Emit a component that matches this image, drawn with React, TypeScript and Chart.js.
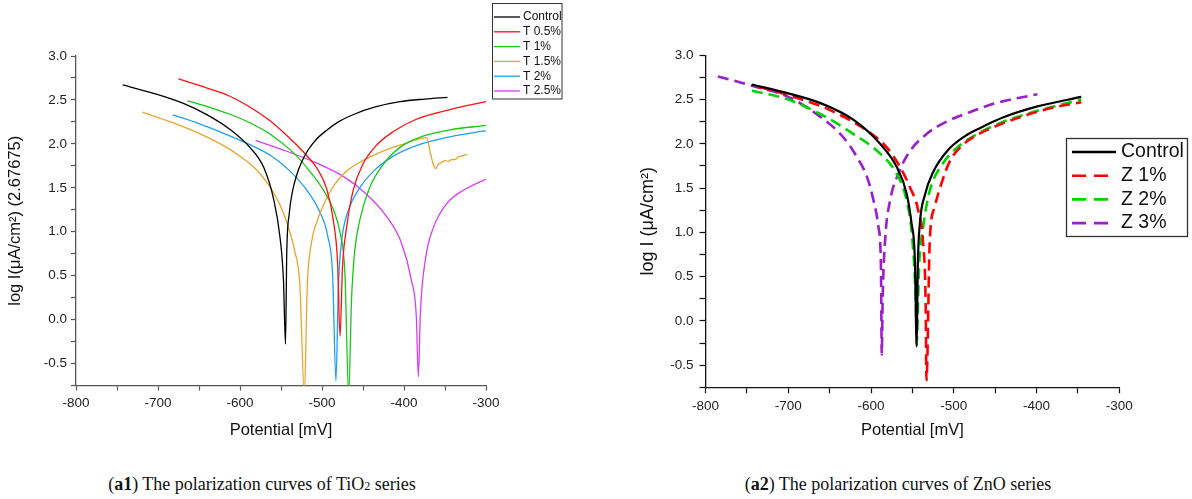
import { useEffect, useRef } from 'react';
import { Chart, registerables } from 'chart.js';

Chart.register(...registerables);

// ---------- (a1) TiO2 series ----------
const tControlE = [-743, -700, -669, -640, -613, -588, -571, -559, -551, -547, -544.5, -543, -540, -536, -531, -525, -517, -507, -495, -480, -460, -435, -405, -375, -347];
const tControlI = [2.67, 2.56, 2.46, 2.33, 2.17, 1.96, 1.73, 1.37, 0.92, 0.45, -0.28, 0.75, 1.2, 1.46, 1.64, 1.79, 1.93, 2.05, 2.15, 2.25, 2.34, 2.42, 2.48, 2.51, 2.53];

const t05E = [-675, -640, -613, -588, -563, -539, -519, -506, -494, -486, -481, -478, -475, -470, -462, -450, -433, -413, -385, -344, -300];
const t05I = [2.74, 2.635, 2.545, 2.42, 2.26, 2.06, 1.87, 1.72, 1.48, 1.12, 0.65, -0.19, 0.6, 1.05, 1.47, 1.77, 1.99, 2.14, 2.28, 2.39, 2.48];

const t1E = [-664, -640, -613, -588, -563, -535, -515, -498, -486, -478, -472, -467.5, -464, -460, -454, -442, -425, -405, -376, -344, -300];
const t1I = [2.49, 2.425, 2.34, 2.24, 2.11, 1.9, 1.69, 1.47, 1.25, 0.99, 0.52, -0.85, 0.23, 0.79, 1.13, 1.5, 1.77, 1.96, 2.09, 2.16, 2.21];

const t15E = [-719, -683, -650, -620, -600, -585, -572, -560, -550, -541, -533, -527, -521.5, -518, -513, -506, -497, -486, -470, -450, -425, -400, -372, -368, -364, -361.5, -358, -354, -350, -346, -342, -338, -334, -330, -327, -323];
const t15I = [2.36, 2.245, 2.12, 1.98, 1.86, 1.75, 1.62, 1.46, 1.28, 1.05, 0.77, 0.4, -0.85, 0.38, 0.87, 1.12, 1.33, 1.52, 1.69, 1.81, 1.92, 2.0, 2.07, 1.9, 1.76, 1.72, 1.77, 1.79, 1.81, 1.8, 1.82, 1.82, 1.85, 1.86, 1.87, 1.88];

const t2E = [-682, -650, -620, -590, -563, -539, -519, -503, -493, -487, -483, -480, -476, -468, -454, -437, -413, -385, -344, -300];
const t2I = [2.33, 2.23, 2.12, 2.0, 1.87, 1.69, 1.48, 1.23, 0.95, 0.5, -0.7, 0.38, 0.9, 1.24, 1.5, 1.69, 1.86, 1.98, 2.08, 2.15];

const t25E = [-581, -547, -506, -474, -446, -421, -403, -391, -385, -382.5, -380, -374, -364, -348, -328, -300];
const t25I = [2.04, 1.93, 1.78, 1.63, 1.43, 1.17, 0.87, 0.45, 0.04, -0.65, 0.08, 0.68, 1.05, 1.32, 1.47, 1.6];

// ---------- (a2) ZnO series ----------
const zControlE = [-744, -700, -661, -621, -589, -569, -557, -551, -547, -544.8, -543.5, -541, -535, -525, -508, -486, -468, -440, -400, -346];
const zControlI = [2.67, 2.57, 2.46, 2.27, 2.0, 1.74, 1.44, 1.1, 0.69, -0.29, 0.61, 1.1, 1.42, 1.68, 1.92, 2.09, 2.18, 2.3, 2.42, 2.53];

const z1E = [-734, -700, -677, -654, -605, -581, -565, -553, -543, -537, -534, -533, -529, -523, -515, -505, -489, -472, -449, -417, -380, -346];
const z1I = [2.64, 2.55, 2.48, 2.4, 2.15, 1.96, 1.74, 1.51, 1.25, 0.87, 0.2, -0.67, 0.91, 1.29, 1.55, 1.8, 1.99, 2.1, 2.2, 2.31, 2.41, 2.47];

const z2E = [-744, -700, -662, -621, -589, -569, -557, -550, -546, -544.8, -542, -537, -529, -513, -493, -472, -440, -400, -346];
const z2I = [2.6, 2.5, 2.34, 2.11, 1.89, 1.66, 1.36, 0.91, 0.23, -0.26, 0.61, 1.06, 1.47, 1.78, 1.98, 2.11, 2.25, 2.37, 2.5];

const z3E = [-785, -745, -700, -662, -634, -617, -605, -597, -591, -588, -587, -586, -583, -577, -567, -555, -533, -509, -480, -449, -399];
const z3I = [2.76, 2.66, 2.53, 2.31, 2.08, 1.85, 1.63, 1.36, 1.06, 0.61, -0.38, 0.23, 0.91, 1.36, 1.66, 1.89, 2.11, 2.25, 2.36, 2.46, 2.56];

const xTickLabels = [-800, -700, -600, -500, -400, -300];
const yTickLabels = [-0.5, 0.0, 0.5, 1.0, 1.5, 2.0, 2.5, 3.0];

const FONT = '"Liberation Sans", Arial, Helvetica, sans-serif';

const pts = (e: number[], v: number[]) => e.map((x, i) => ({ x, y: v[i] }));

const boxLegend = {
  id: 'boxLegend',
  afterDraw(chart: any, _a: any, o: any) {
    if (!o || !o.show) return;
    const ctx = chart.ctx as CanvasRenderingContext2D;
    ctx.save();
    ctx.fillStyle = '#ffffff';
    ctx.fillRect(o.x, o.y, o.w, o.h);
    ctx.strokeStyle = o.border;
    ctx.lineWidth = o.borderWidth;
    ctx.strokeRect(o.x, o.y, o.w, o.h);
    chart.data.datasets.forEach((ds: any, i: number) => {
      const cy = o.firstRow + i * o.rowH;
      ctx.beginPath();
      ctx.setLineDash(ds.borderDash && ds.borderDash.length ? o.dash : []);
      ctx.strokeStyle = ds.borderColor;
      ctx.lineWidth = o.lineW;
      ctx.moveTo(o.lineX0, cy);
      ctx.lineTo(o.lineX1, cy);
      ctx.stroke();
      ctx.setLineDash([]);
      ctx.fillStyle = '#111';
      ctx.font = `${o.fontSize}px ${FONT}`;
      ctx.textBaseline = 'middle';
      ctx.textAlign = 'left';
      ctx.fillText(ds.label, o.textX, cy);
    });
    ctx.restore();
  },
};

type Cfg = {
  width: number;
  height: number;
  datasets: any[];
  yWidth: number;
  xHeight: number;
  padTop: number;
  padRight: number;
  axisColor: string;
  axisWidth: number;
  yTitle: string;
  yTitleSize: number;
  yTitlePad: number;
  tickLen: number;
  tickPadY: number;
  tickSize: number;
  legend: any;
};

function PolChart({ cfg }: { cfg: Cfg }) {
  const ref = useRef<HTMLCanvasElement | null>(null);
  useEffect(() => {
    if (!ref.current) return;
    const chart = new Chart(ref.current, {
      type: 'line',
      data: { datasets: cfg.datasets },
      plugins: [boxLegend],
      options: {
        responsive: false,
        animation: false,
        layout: { padding: { top: cfg.padTop, right: cfg.padRight, left: 0, bottom: 0 } },
        elements: { point: { radius: 0 } },
        plugins: {
          legend: { display: false },
          tooltip: { enabled: false },
          boxLegend: cfg.legend,
        } as any,
        scales: {
          x: {
            type: 'linear',
            min: -800,
            max: -300,
            afterFit: (s: any) => { s.height = cfg.xHeight; },
            ticks: {
              stepSize: 50,
              autoSkip: false,
              maxRotation: 0,
              padding: 5,
              color: '#222',
              font: { size: cfg.tickSize, family: FONT },
              callback: (v: any) => (xTickLabels.includes(Number(v)) ? String(v) : ''),
            },
            grid: { drawOnChartArea: false, tickLength: cfg.tickLen, tickColor: cfg.axisColor, tickWidth: 1.2 },
            border: { color: cfg.axisColor, width: cfg.axisWidth },
            title: {
              display: true,
              text: 'Potential [mV]',
              color: '#111',
              font: { size: 16.5, family: FONT },
              padding: { top: 0, bottom: 10 },
            },
          },
          y: {
            type: 'linear',
            min: -0.75,
            max: 3.0,
            afterFit: (s: any) => { s.width = cfg.yWidth; },
            ticks: {
              stepSize: 0.25,
              autoSkip: false,
              padding: cfg.tickPadY,
              color: '#222',
              font: { size: cfg.tickSize, family: FONT },
              callback: (v: any) => {
                const n = Number(v);
                const hit = yTickLabels.find((t) => Math.abs(t - n) < 1e-6);
                return hit === undefined ? '' : hit.toFixed(1);
              },
            },
            grid: { drawOnChartArea: false, tickLength: cfg.tickLen, tickColor: cfg.axisColor, tickWidth: 1.2 },
            border: { color: cfg.axisColor, width: cfg.axisWidth },
            title: {
              display: true,
              text: cfg.yTitle,
              color: '#111',
              font: { size: cfg.yTitleSize, family: FONT },
              padding: { top: cfg.yTitlePad, bottom: 0 },
            },
          },
        },
      } as any,
    });
    return () => chart.destroy();
  }, [cfg]);
  return (
    <canvas
      ref={ref}
      width={cfg.width}
      height={cfg.height}
      style={{ width: cfg.width, height: cfg.height, display: 'block' }}
    />
  );
}

const solid = (label: string, e: number[], v: number[], color: string, w: number) => ({
  label,
  data: pts(e, v),
  borderColor: color,
  backgroundColor: color,
  borderWidth: w,
  pointRadius: 0,
  fill: false,
  cubicInterpolationMode: 'monotone',
});

const dashed = (label: string, e: number[], v: number[], color: string) => ({
  ...solid(label, e, v, color, 2.6),
  borderDash: [11, 6],
});

const leftCfg: Cfg = {
  width: 600,
  height: 450,
  datasets: [
    solid('Control', tControlE, tControlI, '#000000', 1.3),
    solid('T 0.5%', t05E, t05I, '#ff1010', 1.3),
    solid('T 1%', t1E, t1I, '#14c814', 1.3),
    solid('T 1.5%', t15E, t15I, '#e8a530', 1.3),
    solid('T 2%', t2E, t2I, '#1e9ff5', 1.3),
    solid('T 2.5%', t25E, t25I, '#d83cf5', 1.3),
  ],
  yWidth: 76,
  xHeight: 64.5,
  padTop: 56,
  padRight: 114,
  axisColor: '#555555',
  axisWidth: 1.3,
  yTitle: 'log I(μA/cm²) (2.67675)',
  yTitleSize: 16.5,
  yTitlePad: 6,
  tickLen: 5,
  tickPadY: 4,
  tickSize: 13.5,
  legend: {
    show: true,
    x: 492.5, y: 3.5, w: 69.5, h: 95.5,
    border: '#333', borderWidth: 1,
    firstRow: 17, rowH: 14.8,
    lineX0: 494, lineX1: 520, lineW: 1.3,
    textX: 523, fontSize: 12, dash: [],
  },
};

const rightCfg: Cfg = {
  width: 592,
  height: 450,
  datasets: [
    solid('Control', zControlE, zControlI, '#000000', 2.2),
    dashed('Z 1%', z1E, z1I, '#ff0000'),
    dashed('Z 2%', z2E, z2I, '#00d400'),
    dashed('Z 3%', z3E, z3I, '#9b1fc9'),
  ],
  yWidth: 105.5,
  xHeight: 62.7,
  padTop: 55.3,
  padRight: 72.7,
  axisColor: '#111111',
  axisWidth: 1.3,
  yTitle: 'log I (μA/cm²)',
  yTitleSize: 18,
  yTitlePad: 37,
  tickLen: 6,
  tickPadY: 6,
  tickSize: 13.5,
  legend: {
    show: true,
    x: 466.5, y: 138.5, w: 121, h: 98,
    border: '#333', borderWidth: 1.3,
    firstRow: 152, rowH: 23.7,
    lineX0: 472, lineX1: 516, lineW: 2.6,
    textX: 521, fontSize: 19.5, dash: [14, 8],
  },
};

const captionStyle: any = {
  position: 'absolute',
  top: 474,
  width: 500,
  textAlign: 'center',
  fontFamily: '"Liberation Serif", "Times New Roman", serif',
  fontSize: 18,
  lineHeight: '20px',
  color: '#111',
  whiteSpace: 'nowrap',
};

export default function App() {
  return (
    <div style={{ position: 'absolute', left: 0, top: 0, width: 1192, height: 499, background: '#fff', overflow: 'hidden' }}>
      <div style={{ position: 'absolute', left: 0, top: 0 }}>
        <PolChart cfg={leftCfg} />
      </div>
      <div style={{ position: 'absolute', left: 600, top: 0 }}>
        <PolChart cfg={rightCfg} />
      </div>
      <div style={{ ...captionStyle, left: 262 - 250 }}>
        (<b>a1</b>) The polarization curves of TiO<span style={{ fontSize: 12 }}>2</span> series
      </div>
      <div style={{ ...captionStyle, left: 898 - 250 }}>
        (<b>a2</b>) The polarization curves of ZnO series
      </div>
    </div>
  );
}
